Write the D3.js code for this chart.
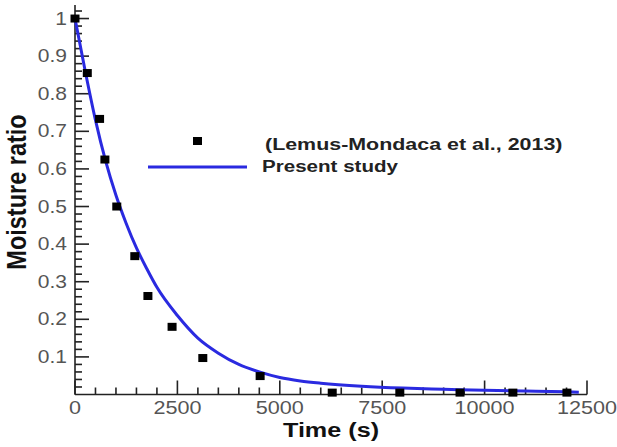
<!DOCTYPE html>
<meta charset="utf-8">
<script src="https://d3js.org/d3.v7.min.js"></script>
<style>
  body { margin: 0; background: #fff; }
  text { font-family: Arial, "Liberation Sans", sans-serif; }
</style>
<div id="chart"></div>
<script>
    // measured points (Lemus-Mondaca et al., 2013)
    const expTime = [0, 300, 600, 730, 1020, 1460, 1780, 2370, 3120, 4520, 6280, 7930, 9400, 10690, 12010]
    const expMR   = [1.0, 0.855, 0.733, 0.625, 0.50, 0.368, 0.262, 0.18, 0.097, 0.049, 0.005, 0.005, 0.005, 0.005, 0.005]

    // present study curve
    const simTime = [0, 250, 500, 750, 1000, 1250, 1500, 1750, 2000, 2500, 3000, 3500, 4000, 4500, 5000, 5500, 6000, 7000, 8000, 9000, 10000, 11000, 12000, 12300]
    const simMR   = [1.0, 0.86, 0.73, 0.62, 0.53, 0.455, 0.39, 0.335, 0.285, 0.21, 0.15, 0.11, 0.08, 0.06, 0.045, 0.036, 0.03, 0.022, 0.017, 0.014, 0.011, 0.009, 0.007, 0.006]

    const xTicks = [0, 2500, 5000, 7500, 10000, 12500]
    const yTicks = [0.1, 0.2, 0.3, 0.4, 0.5, 0.6, 0.7, 0.8, 0.9, 1]

    const seriesNames = ["(Lemus-Mondaca et al., 2013)", "Present study"]

    const width = 617, height = 447
    const margin = {left: 75, right: 30, top: 5, bottom: 52.5}
    const stretch = 1.2   // the source picture is a bit wider than tall

    const svg = d3.select("#chart").append("svg")
        .attr("width", width)
        .attr("height", height)

    const x = d3.scaleLinear().domain([0, 12500]).range([margin.left, width - margin.right])
    const y = d3.scaleLinear().domain([0, 1.036]).range([height - margin.bottom, margin.top])

    // minor ticks
    const xMinor = d3.range(0, 12501, 500).filter(d => d % 2500 !== 0)
    const yMinor = d3.range(2, 104, 2).map(d => d / 100).filter(d => Math.round(d * 100) % 10 !== 0)

    const axisG = svg.append("g").attr("stroke", "#222").attr("stroke-width", 1.6)

    // axis lines
    axisG.append("line")
        .attr("x1", x(0)).attr("x2", x(12500))
        .attr("y1", y(0)).attr("y2", y(0))
    axisG.append("line")
        .attr("x1", x(0)).attr("x2", x(0))
        .attr("y1", y(0)).attr("y2", y(1.036))

    // x ticks (pointing up)
    axisG.selectAll(".xmaj").data(xTicks).join("line")
        .attr("x1", d => x(d)).attr("x2", d => x(d))
        .attr("y1", y(0)).attr("y2", y(0) - 14)
    axisG.selectAll(".xmin").data(xMinor).join("line")
        .attr("x1", d => x(d)).attr("x2", d => x(d))
        .attr("y1", y(0)).attr("y2", y(0) - 7)

    // y ticks (pointing right)
    axisG.selectAll(".ymaj").data(yTicks).join("line")
        .attr("x1", x(0)).attr("x2", x(0) + 14)
        .attr("y1", d => y(d)).attr("y2", d => y(d))
    axisG.selectAll(".ymin").data(yMinor).join("line")
        .attr("x1", x(0)).attr("x2", x(0) + 7)
        .attr("y1", d => y(d)).attr("y2", d => y(d))

    // tick labels
    svg.append("g").selectAll("text").data(xTicks).join("text")
        .attr("transform", d => `translate(${x(d)},${y(0) + 19}) scale(${stretch},1)`)
        .attr("text-anchor", "middle")
        .attr("font-size", 18)
        .attr("fill", "#555")
        .text(d => d)

    svg.append("g").selectAll("text").data(yTicks).join("text")
        .attr("transform", d => `translate(${x(0) - 8},${y(d)}) scale(${stretch},1)`)
        .attr("dy", "0.35em")
        .attr("text-anchor", "end")
        .attr("font-size", 17.5)
        .attr("fill", "#555")
        .text(d => d)

    // axis titles
    svg.append("text")
        .attr("transform", `translate(331,437) scale(${stretch},1)`)
        .attr("text-anchor", "middle")
        .attr("font-size", 21)
        .attr("font-weight", "bold")
        .attr("fill", "#111")
        .text("Time (s)")

    svg.append("text")
        .attr("transform", `translate(26,192) scale(${stretch},1) rotate(-90)`)
        .attr("text-anchor", "middle")
        .attr("font-size", 23.5)
        .attr("font-weight", "bold")
        .attr("fill", "#111")
        .text("Moisture ratio")

    // curve
    const simData = simTime.map((t, i) => ({t: t, v: simMR[i]}))
    svg.append("path")
        .datum(simData)
        .attr("d", d3.line().x(d => x(d.t)).y(d => y(d.v)).curve(d3.curveMonotoneX))
        .attr("fill", "none")
        .attr("stroke", "#2a2ae0")
        .attr("stroke-width", 3)

    // points
    const expData = expTime.map((t, i) => ({t: t, v: expMR[i]}))
    svg.append("g").selectAll("rect").data(expData).join("rect")
        .attr("x", d => x(d.t) - 4.5)
        .attr("y", d => y(d.v) - 4)
        .attr("width", 9).attr("height", 8)
        .attr("fill", "#000")

    // legend
    const leg = svg.append("g")
    leg.append("rect")
        .attr("x", 193).attr("y", 137).attr("width", 9).attr("height", 8)
        .attr("fill", "#000")
    leg.append("line")
        .attr("x1", 148).attr("x2", 247).attr("y1", 167).attr("y2", 167)
        .attr("stroke", "#2a2ae0").attr("stroke-width", 3)
    leg.selectAll("text").data(seriesNames).join("text")
        .attr("transform", (d, i) => i === 0
            ? `translate(265,144) scale(1.26,1)`
            : `translate(262,166) scale(1.21,1)`)
        .attr("dy", "0.35em")
        .attr("font-size", 17)
        .attr("font-weight", "bold")
        .attr("fill", "#222")
        .text(d => d)
</script>
